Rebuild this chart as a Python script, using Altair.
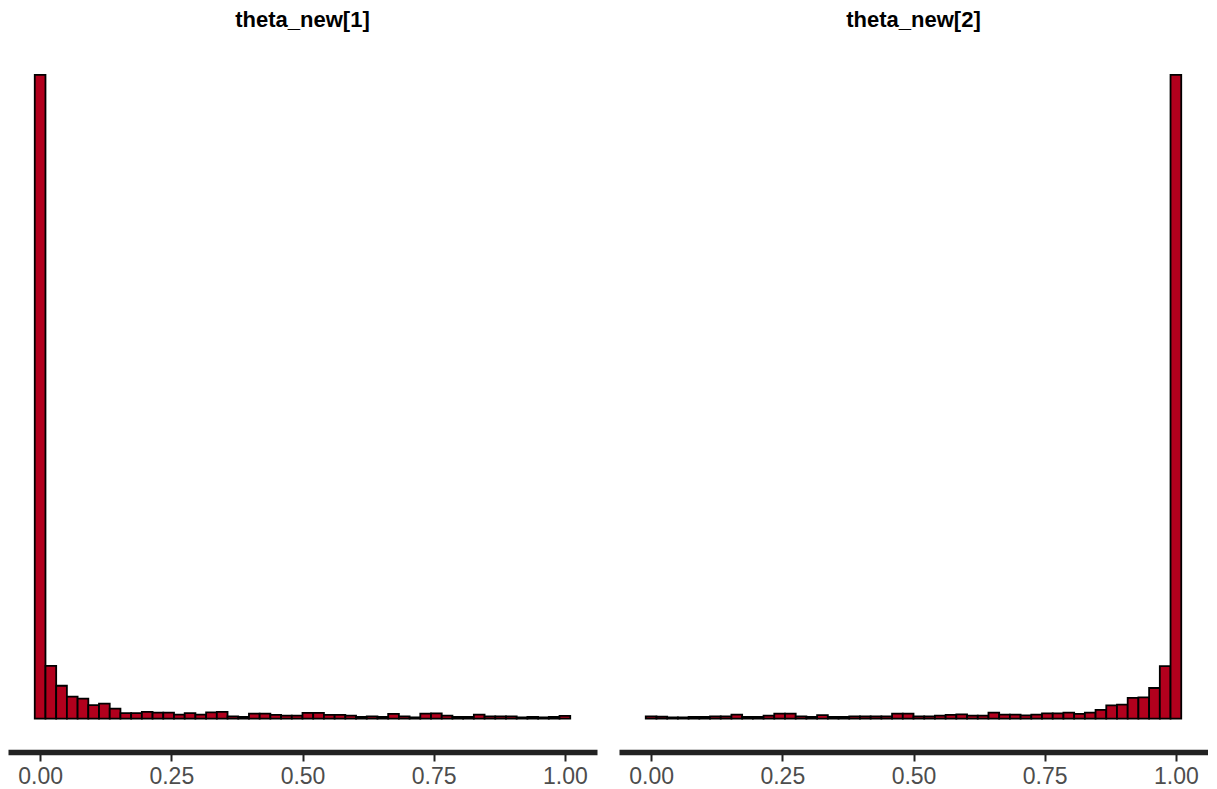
import altair as alt
import pandas as pd
import numpy as np

# histogram bin centres: 50 bins from 0 to 1
bin_centers = [round(k / 49, 6) for k in range(50)]
bin_width = 1 / 49

counts_theta1 = [2584, 212, 132, 88, 80, 54, 60, 40, 22, 22,
                 27, 24, 24, 16, 22, 16, 25, 27, 9, 7,
                 20, 20, 15, 12, 12, 23, 23, 15, 15, 12,
                 7, 9, 7, 19, 9, 5, 20, 21, 12, 7,
                 7, 16, 9, 9, 9, 5, 7, 5, 7, 11]

counts_theta2 = [9, 8, 5, 5, 7, 7, 9, 9, 16, 7,
                 7, 12, 20, 20, 9, 7, 14, 7, 7, 9,
                 9, 9, 9, 20, 20, 9, 9, 12, 15, 17,
                 12, 12, 24, 16, 16, 13, 16, 21, 21, 24,
                 19, 24, 35, 53, 56, 83, 85, 123, 211, 2584]

panel_titles = ["theta_new[1]", "theta_new[2]"]
x_ticks = [0.0, 0.25, 0.5, 0.75, 1.0]

BAR_FILL = "#B2001D"
X_DOMAIN = [-0.0612, 1.0612]
Y_DOMAIN = [-134, 2712]


def panel(title, counts):
    df = pd.DataFrame({
        "center": bin_centers,
        "count": counts,
    })
    df["x0"] = df["center"] - bin_width / 2
    df["x1"] = df["center"] + bin_width / 2
    df["base"] = 0
    return (
        alt.Chart(df)
        .mark_rect(fill=BAR_FILL, stroke="black", strokeWidth=1.8)
        .encode(
            x=alt.X("x0:Q",
                    scale=alt.Scale(domain=X_DOMAIN, nice=False, zero=False),
                    axis=alt.Axis(values=x_ticks, format=".2f", title=None,
                                  grid=False, labelFontSize=23,
                                  labelColor="#4d4d4d", labelFont="Liberation Sans",
                                  domainColor="#222222", domainWidth=5.5,
                                  tickColor="#222222", tickWidth=2, tickSize=9,
                                  labelPadding=4, labelFlush=False)),
            x2="x1:Q",
            y=alt.Y("count:Q",
                    scale=alt.Scale(domain=Y_DOMAIN, nice=False, zero=False),
                    axis=None),
            y2="base:Q",
        )
        .properties(
            width=589,
            height=709,
            title=alt.TitleParams(title, fontSize=22, fontWeight="bold",
                                  font="Liberation Sans", color="black",
                                  anchor="middle", offset=11),
        )
    )


chart = (
    alt.hconcat(panel(panel_titles[0], counts_theta1),
                panel(panel_titles[1], counts_theta2),
                spacing=22)
    .properties(padding={"left": 0, "right": 0, "top": 1, "bottom": 0},
                background="white")
    .configure_view(strokeWidth=0, stroke=None)
)

chart.save("out.html", embed_options={"renderer": "svg", "actions": False})
